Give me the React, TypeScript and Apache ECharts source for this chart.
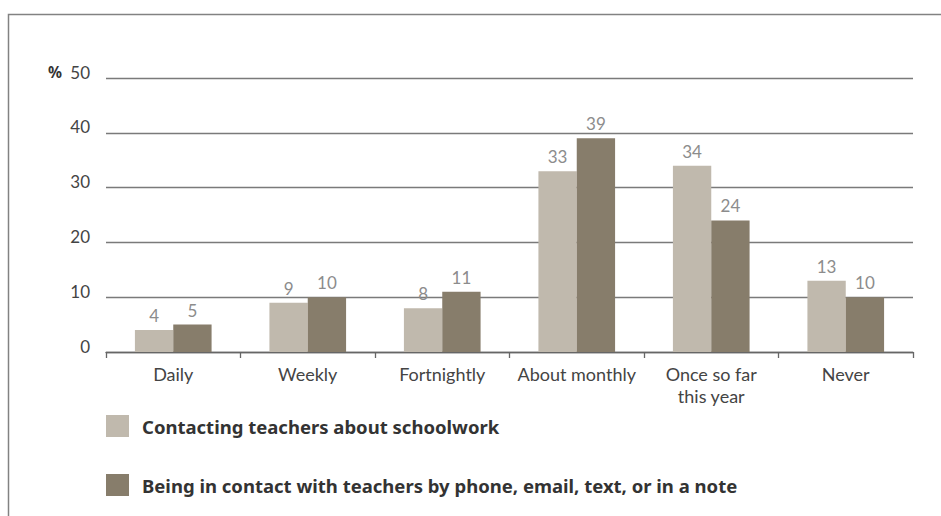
import React, { useEffect, useRef } from "react";
import * as echarts from "echarts";

const categories = ["Daily", "Weekly", "Fortnightly", "About monthly", "Once so far\nthis year", "Never"];
const seriesNames = [
  "Contacting teachers about schoolwork",
  "Being in contact with teachers by phone, email, text, or in a note",
];
const schoolwork = [4, 9, 8, 33, 34, 13];
const contact = [5, 10, 11, 39, 24, 10];
const yTicks = { min: 0, max: 50, interval: 10 };

const FONT = "Lato, 'Noto Sans', sans-serif";
const LEGEND_FONT = "'Noto Sans', 'Open Sans', sans-serif";
const LIGHT = "#c0b9ad";
const DARK = "#877d6b";

export default function App() {
  const ref = useRef<HTMLDivElement>(null);
  useEffect(() => {
    if (!ref.current) return;
    const chart = echarts.init(ref.current, null, { renderer: "svg" });
    const label = {
      show: true,
      position: "top",
      distance: 6,
      color: "#8c8c8c",
      fontSize: 17,
      fontFamily: FONT,
    };
    chart.setOption({
      animation: false,
      backgroundColor: "#ffffff",
      textStyle: { fontFamily: FONT },
      grid: { left: 106, right: 28, top: 78, bottom: 164, containLabel: false },
      graphic: [
        {
          type: "rect",
          shape: { x: 8.5, y: 14.5, width: 1000, height: 600 },
          style: { fill: "none", stroke: "#828282", lineWidth: 1.5 },
          silent: true,
        },
        {
          type: "text",
          x: 48,
          y: 72,
          style: {
            text: "%",
            fontSize: 15.5,
            fontWeight: "bold",
            fill: "#333",
            fontFamily: LEGEND_FONT,
            verticalAlign: "middle",
          },
        },
      ],
      legend: {
        orient: "vertical",
        left: 106,
        top: 415,
        padding: 0,
        itemWidth: 23,
        itemHeight: 22,
        itemGap: 37,
        icon: "rect",
        selectedMode: false,
        textStyle: {
          fontSize: 18.5,
          lineHeight: 16,
          fontWeight: "bold",
          color: "#333",
          fontFamily: LEGEND_FONT,
          padding: [6, 0, 0, 8],
        },
        data: seriesNames,
      },
      xAxis: {
        type: "category",
        data: categories,
        axisLine: { lineStyle: { color: "#666", width: 1.3 } },
        axisTick: { show: true, interval: 0, length: 6, lineStyle: { color: "#666", width: 1.3 } },
        axisLabel: { interval: 0, color: "#444", fontSize: 18, fontFamily: FONT, margin: 11, lineHeight: 22 },
      },
      yAxis: {
        type: "value",
        min: yTicks.min,
        max: yTicks.max,
        interval: yTicks.interval,
        axisLine: { show: false },
        axisTick: { show: false },
        axisLabel: {
          color: "#444",
          fontSize: 17,
          fontFamily: FONT,
          margin: 16,
          verticalAlign: "bottom",
          lineHeight: 12,
        },
        splitLine: { lineStyle: { color: "#7a7a7a", width: 1.3 } },
      },
      series: [
        {
          name: seriesNames[0],
          type: "bar",
          data: schoolwork,
          itemStyle: { color: LIGHT },
          barGap: "0%",
          barCategoryGap: "43%",
          label,
        },
        {
          name: seriesNames[1],
          type: "bar",
          data: contact,
          itemStyle: { color: DARK },
          barGap: "0%",
          barCategoryGap: "43%",
          label,
        },
      ],
    });
    return () => chart.dispose();
  }, []);
  return (
    <div
      ref={ref}
      style={{ position: "fixed", left: 0, top: 0, width: 941, height: 516, background: "#fff" }}
    />
  );
}
